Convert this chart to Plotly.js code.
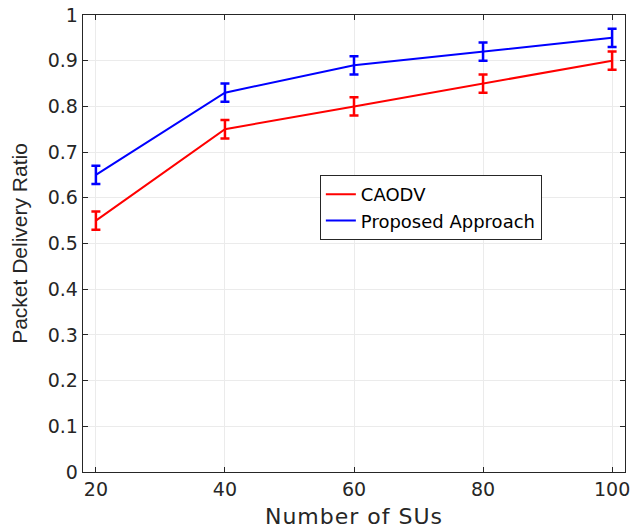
<!DOCTYPE html>
<html><head><meta charset="utf-8">
<script src="https://cdn.plot.ly/plotly-3.0.1.min.js"></script>
<style>
body{margin:0;padding:0;background:#fff}#chart{width:631px;height:530px}
#chart .xtitle{letter-spacing:1px}
</style>
</head><body><div id="chart"></div>
<script>
const nodes = [20, 40, 60, 80, 100];
const caodv = [0.55, 0.75, 0.80, 0.85, 0.90];
const caodvErr = [0.02, 0.02, 0.02, 0.02, 0.02];
const proposed = [0.65, 0.83, 0.89, 0.92, 0.95];
const proposedErr = [0.02, 0.02, 0.02, 0.02, 0.02];
const seriesNames = ['CAODV', 'Proposed Approach'];
const yTicks = [0, 0.1, 0.2, 0.3, 0.4, 0.5, 0.6, 0.7, 0.8, 0.9, 1];
const yTickText = ['0', '0.1', '0.2', '0.3', '0.4', '0.5', '0.6', '0.7', '0.8', '0.9', '1'];

const traces = [
  {x: nodes, y: caodv, name: seriesNames[0], type: 'scatter', mode: 'lines',
   line: {color: '#ff0000', width: 2},
   error_y: {type: 'data', array: caodvErr, visible: true, color: '#ff0000', thickness: 2.5, width: 4.5}},
  {x: nodes, y: proposed, name: seriesNames[1], type: 'scatter', mode: 'lines',
   line: {color: '#0000ff', width: 2},
   error_y: {type: 'data', array: proposedErr, visible: true, color: '#0000ff', thickness: 2.5, width: 4.5}}
];

const tickFont = {family: 'DejaVu Sans, sans-serif', size: 19, color: '#262626'};
const axisCommon = {
  showline: true, linecolor: '#262626', linewidth: 1.3, mirror: 'ticks',
  ticks: 'inside', ticklen: 5, tickcolor: '#262626', tickwidth: 1,
  showgrid: true, gridcolor: '#ebebeb', gridwidth: 1, zeroline: false,
  tickfont: tickFont
};

const layout = {
  width: 631, height: 530,
  margin: {l: 83, r: 6, t: 15, b: 58},
  paper_bgcolor: '#ffffff', plot_bgcolor: '#ffffff',
  showlegend: true,
  legend: {x: 0.437, y: 0.65, xanchor: 'left', yanchor: 'top',
    bgcolor: '#ffffff', bordercolor: '#262626', borderwidth: 1,
    font: {family: 'DejaVu Sans, sans-serif', size: 18, color: '#000'},
    tracegroupgap: 0},
  xaxis: Object.assign({}, axisCommon, {
    range: [18, 102], tickvals: nodes, ticktext: nodes.map(String),
    title: {text: 'Number of SUs', font: {family: 'DejaVu Sans, sans-serif', size: 22, color: '#262626'}, standoff: 9}
  }),
  yaxis: Object.assign({}, axisCommon, {
    range: [0, 1], tickvals: yTicks, ticktext: yTickText,
    title: {text: 'Packet Delivery Ratio', font: {family: 'Liberation Sans, Arial, sans-serif', size: 21, color: '#262626'}, standoff: 14}
  })
};

Plotly.newPlot('chart', traces, layout, {displayModeBar: false, staticPlot: true});
</script></body></html>
